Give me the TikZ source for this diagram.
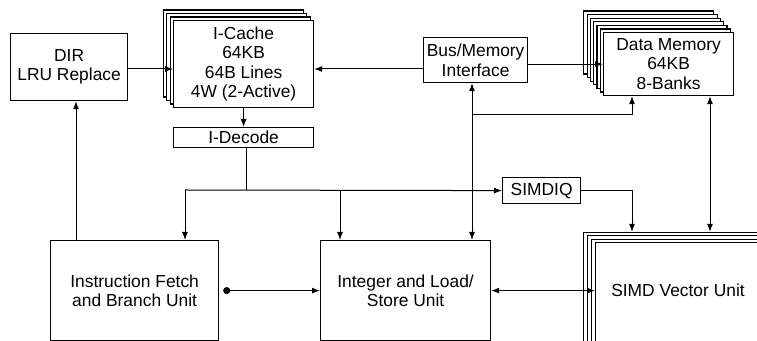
\documentclass[tikz,border=0pt]{standalone}
\usepackage{fontspec}
\setmainfont{Liberation Sans}
\usepackage{tikz}
\usetikzlibrary{arrows.meta,positioning,calc}
\def\px{0.5pt}
\tikzset{
  % ---- blocks ---------------------------------------------------------
  blk/.style={
    draw=black, line width=0.6pt, fill=white, anchor=north west,
    inner sep=1pt, align=center,
    font=\fontsize{8.7}{9.7}\selectfont},
  lbl/.style={font=\fontsize{8.7}{9.7}\selectfont, align=center},
  % ---- connections ----------------------------------------------------
  flow/.style={
    -{Latex[length=4pt,width=3pt]}, draw=black, line width=0.5pt},
  both/.style={flow, {Latex[length=4pt,width=3pt]}-{Latex[length=4pt,width=3pt]}},
  link/.style={draw=black, line width=0.5pt},
}
\begin{document}
\begin{tikzpicture}[x=\px, y=-\px]

\useasboundingbox (0,0) rectangle (757,341);
\clip (0,0) rectangle (757,341);

% ---- directory and I-cache --------------------------------------------
\node[blk, minimum width=117*\px, minimum height=67*\px] (dir) at (10,33)
  {DIR\\LRU Replace};
\foreach \k in {3,2,1}{
  \node[blk, minimum width=140*\px, minimum height=87*\px]
    (icache\k) at (173-3.5*\k, 20-3.5*\k) {};
}
\node[blk, minimum width=140*\px, minimum height=87*\px] (icache) at (173,20)
  {I-Cache\\64KB\\64B Lines\\4W (2-Active)};
\node[blk, minimum width=140*\px, minimum height=20*\px] (idecode) at (173,127)
  {I-Decode};

% ---- memory side ------------------------------------------------------
\node[blk, minimum width=104*\px, minimum height=45*\px] (bus) at (423,37)
  {Bus/Memory\\Interface};
\foreach \k in {6,5,...,1}{
  \node[blk, minimum width=130*\px, minimum height=63*\px]
    (dmem\k) at (603-3.3*\k, 32-3.6*\k) {};
}
\node[blk, minimum width=130*\px, minimum height=63*\px] (dmem) at (603,32)
  {Data Memory\\64KB\\8-Banks};
\node[blk, minimum width=78*\px, minimum height=26*\px] (simdiq) at (502,177)
  {SIMDIQ};

% ---- execution units --------------------------------------------------
\node[blk, minimum width=168*\px, minimum height=100*\px] (ifetch) at (50,240)
  {Instruction Fetch\\and Branch Unit};
\node[blk, minimum width=170*\px, minimum height=100*\px] (int) at (320,240)
  {Integer and Load/\\Store Unit};
\foreach \k in {3,2,1}{
  \node[blk, minimum width=180*\px, minimum height=130*\px]
    (simd\k) at (595-4*\k, 242-3.4*\k) {};
}
\node[blk, minimum width=180*\px, minimum height=130*\px] (simd) at (595,242) {};
\node[lbl] (simdtxt) at (678,290) {SIMD Vector Unit};

% ---- tap points -------------------------------------------------------
\coordinate (cline) at (0,69);
\coordinate (dirtap) at (76,0);
\coordinate (memtap) at (472,115);
\coordinate (dmtap) at (632,115);
\coordinate (dstap) at (710,0);
\coordinate (dectap) at (246,190);
\coordinate (ftap) at (185,190);
\coordinate (itap) at (340,190);

% ---- fetch path -------------------------------------------------------
\draw[flow] (dir.east |- cline) -- (icache.west |- cline);
\draw[flow] (bus.west |- cline) -- (icache.east |- cline);
\draw[flow] (icache.south) -- (idecode.north);
\draw[flow] (ifetch.north -| dirtap) -- (dir.south -| dirtap);

% ---- decode bus -------------------------------------------------------
\draw[link] (idecode.south -| dectap) -- (dectap);
\draw[flow] (ftap) -- (simdiq.west);
\draw[flow] (ftap) -- (ifetch.north -| ftap);
\draw[flow] (itap) -- (int.north -| itap);
\draw[flow] (simdiq.east) -| (simd3.north -| dmtap);

% ---- memory links -----------------------------------------------------
\draw[flow] (bus.east |- dmem.west) -- (dmem.west);
\draw[both] (int.north -| memtap) -- (bus.south -| memtap);
\draw[flow] (memtap) -- (dmtap) -- (dmem.south -| dmtap);
\draw[both] (dmem.south -| dstap) -- (simd3.north -| dstap);

% ---- unit to unit -----------------------------------------------------
\draw[flow, {Circle[length=3.5pt]}-{Latex[length=4pt,width=3pt]}]
  ([xshift=2pt]ifetch.east) -- (int.west);
\draw[both] (int.east) -- (int.east -| simd.west);

\end{tikzpicture}
\end{document}
